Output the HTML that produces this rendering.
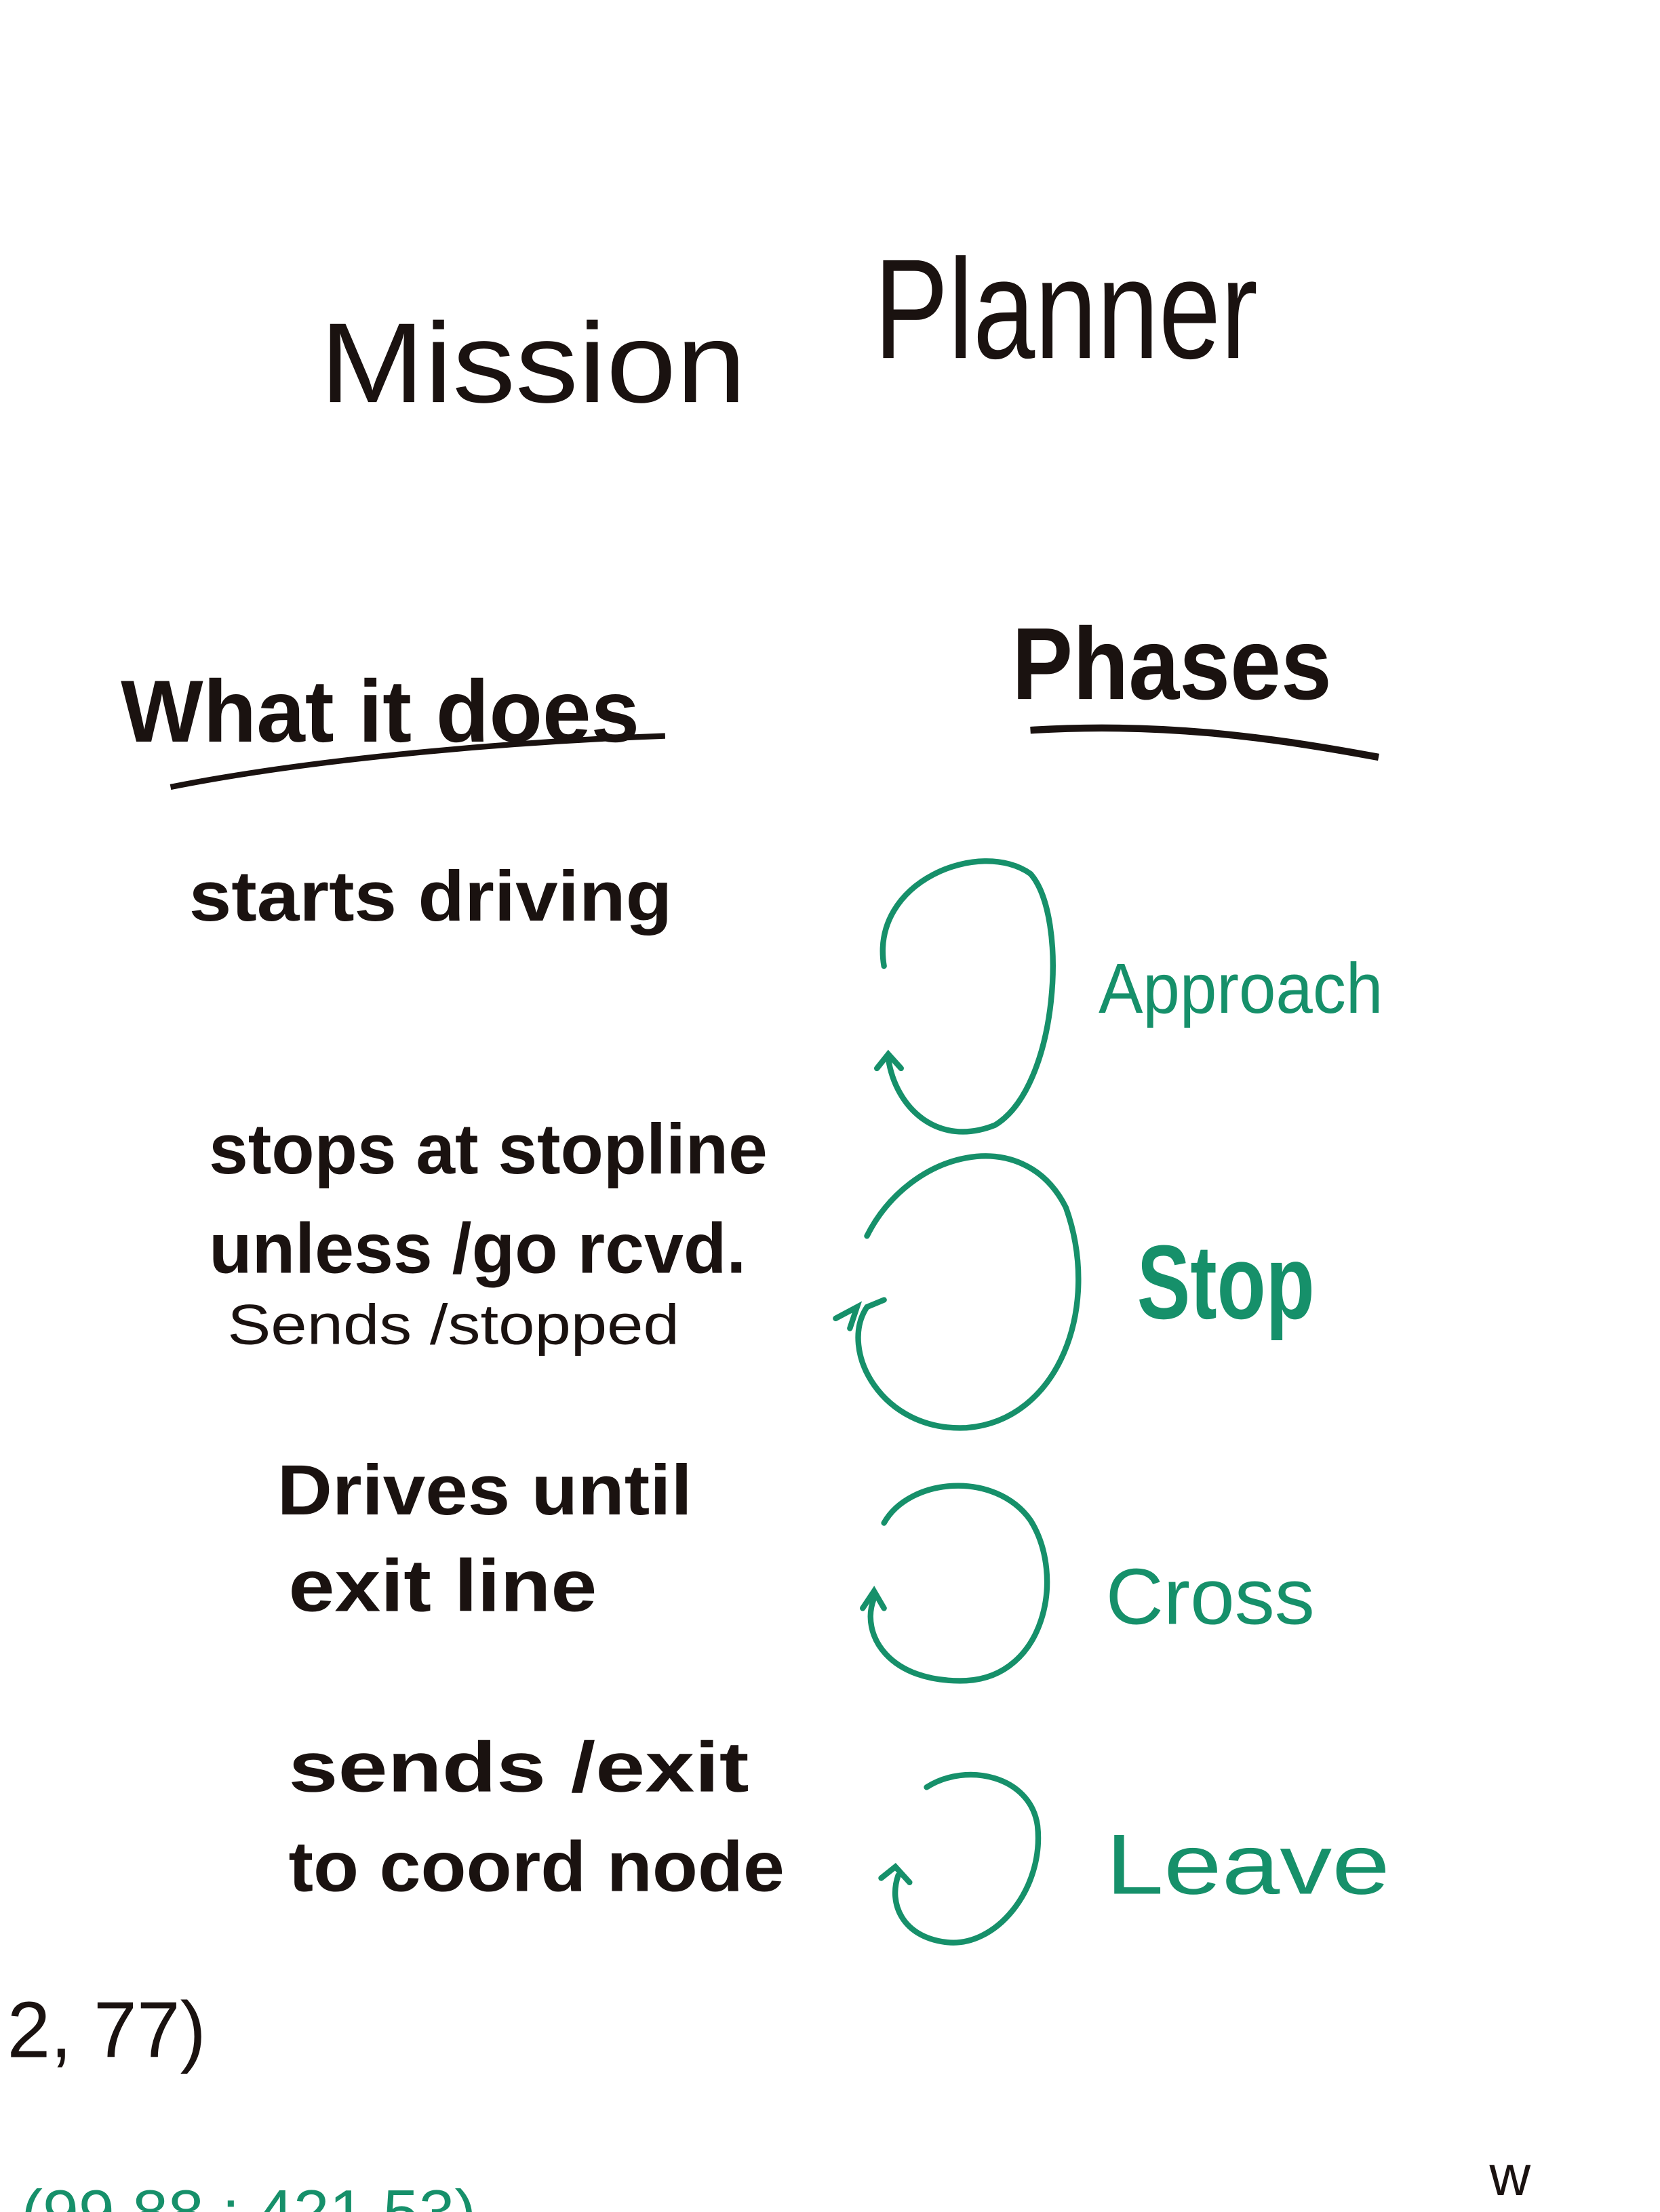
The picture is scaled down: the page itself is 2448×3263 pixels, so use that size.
<!DOCTYPE html>
<html><head><meta charset="utf-8"><style>
html,body{margin:0;padding:0;background:#fff}
svg{display:block}
.k{font-family:"Liberation Sans",sans-serif;fill:#1a1210;font-weight:bold}
.t{font-family:"Liberation Sans",sans-serif;fill:#1a1210}
.g{font-family:"Liberation Sans",sans-serif;fill:#16906a}
</style></head><body>
<svg width="2448" height="3263" viewBox="0 0 1168 1557" preserveAspectRatio="none" xmlns="http://www.w3.org/2000/svg">
<rect width="1168" height="1557" fill="#fff"/>
<text class="t" x="225" y="283" font-size="80" textLength="300" lengthAdjust="spacingAndGlyphs">Mission</text>
<text class="t" x="615" y="252" font-size="100" textLength="270" lengthAdjust="spacingAndGlyphs">Planner</text>
<text class="k" x="85" y="522" font-size="62" textLength="365" lengthAdjust="spacingAndGlyphs">What it does</text>
<path d="M120,554 C220,534 360,522 468,518" stroke="#1a1210" stroke-width="4" fill="none"/>
<text class="k" x="712" y="492" font-size="72" textLength="225" lengthAdjust="spacingAndGlyphs">Phases</text>
<path d="M725,514 C820,508 900,520 970,533" stroke="#1a1210" stroke-width="5" fill="none"/>
<text class="k" x="133" y="648" font-size="50" textLength="340" lengthAdjust="spacingAndGlyphs">starts driving</text>
<text class="k" x="147" y="826" font-size="50" textLength="393" lengthAdjust="spacingAndGlyphs">stops at stopline</text>
<text class="k" x="147" y="896" font-size="50" textLength="378" lengthAdjust="spacingAndGlyphs">unless /go rcvd.</text>
<text class="t" x="160" y="946" font-size="40" textLength="318" lengthAdjust="spacingAndGlyphs">Sends /stopped</text>
<text class="k" x="195" y="1066" font-size="50" textLength="292" lengthAdjust="spacingAndGlyphs">Drives until</text>
<text class="k" x="203" y="1134" font-size="52" textLength="217" lengthAdjust="spacingAndGlyphs">exit line</text>
<text class="k" x="203" y="1261" font-size="50" textLength="324" lengthAdjust="spacingAndGlyphs">sends /exit</text>
<text class="k" x="203" y="1331" font-size="50" textLength="349" lengthAdjust="spacingAndGlyphs">to coord node</text>
<text class="t" x="5" y="1448" font-size="56" textLength="140" lengthAdjust="spacingAndGlyphs">2, 77)</text>
<text class="g" x="15" y="1572" font-size="44" textLength="320" lengthAdjust="spacingAndGlyphs">(99.88 : 421.53)</text>
<text class="t" x="1048" y="1545" font-size="40">w</text>
<g stroke="#16906a" stroke-width="4" fill="none" stroke-linecap="round">
<path d="M622,680 C612,620 690,590 725,615 C752,645 745,765 700,792 C660,808 630,780 625,745"/>
<path d="M617,752 L625,742 L634,752"/>
<path d="M610,870 C640,810 720,790 750,850 C775,920 745,1000 680,1005 C620,1008 590,950 610,920 L622,915"/>
<path d="M588,928 L603,920 L598,935"/>
<path d="M622,1072 C640,1040 700,1035 725,1070 C750,1110 735,1180 680,1183 C625,1185 605,1150 615,1125"/>
<path d="M607,1132 L615,1120 L622,1132"/>
<path d="M652,1258 C680,1240 725,1250 730,1285 C735,1330 700,1372 665,1367 C635,1363 625,1340 632,1320"/>
<path d="M620,1322 L630,1314 L640,1325"/>
</g>
<text class="g" x="773" y="713" font-size="50" textLength="200" lengthAdjust="spacingAndGlyphs">Approach</text>
<text class="g" x="800" y="928" font-size="74" font-weight="bold" textLength="125" lengthAdjust="spacingAndGlyphs">Stop</text>
<text class="g" x="778" y="1143" font-size="56" textLength="147" lengthAdjust="spacingAndGlyphs">Cross</text>
<text class="g" x="778" y="1333" font-size="60" textLength="200" lengthAdjust="spacingAndGlyphs">Leave</text>
</svg>
</body></html>
